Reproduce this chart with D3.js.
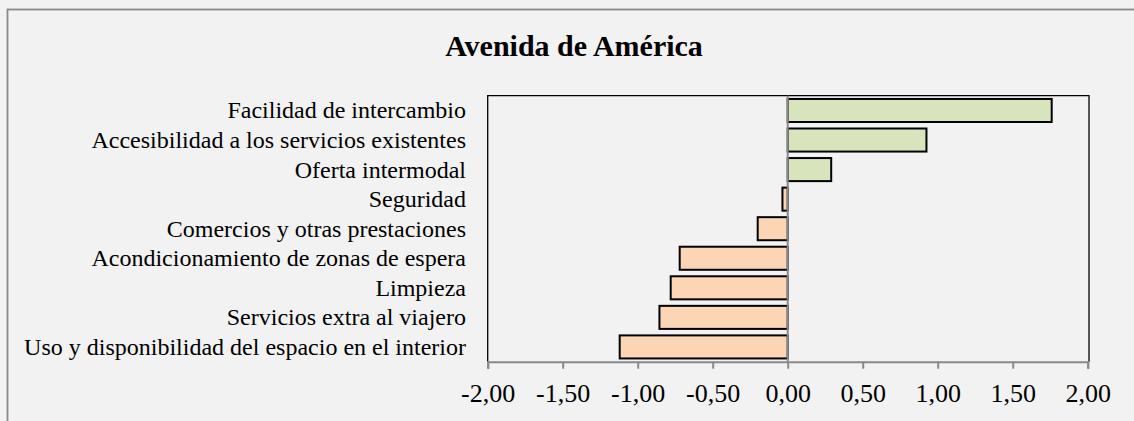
<!DOCTYPE html>
<html>
<head>
<meta charset="utf-8">
<script src="https://cdn.jsdelivr.net/npm/d3@7"></script>
<style>
  html, body { margin: 0; padding: 0; background: #f2f2f2; }
  svg { display: block; }
  text { font-family: "Liberation Serif", "Times New Roman", serif; fill: #000; }
</style>
</head>
<body>
<svg id="chart" width="1134" height="421"></svg>
<script>
const title = "Avenida de América";
const categories = [
  "Facilidad de intercambio",
  "Accesibilidad a los servicios existentes",
  "Oferta intermodal",
  "Seguridad",
  "Comercios y otras prestaciones",
  "Acondicionamiento de zonas de espera",
  "Limpieza",
  "Servicios extra al viajero",
  "Uso y disponibilidad del espacio en el interior"
];
const values = [1.76, 0.925, 0.29, -0.035, -0.20, -0.72, -0.78, -0.855, -1.12];
const tickValues = [-2, -1.5, -1, -0.5, 0, 0.5, 1, 1.5, 2];

const svg = d3.select("#chart");
const W = 1134, H = 421;
const plot = { left: 487.7, right: 1087.7, top: 95.7, bottom: 361.7 };

// outer frame
svg.append("rect")
  .attr("x", 7.5).attr("y", 9.5)
  .attr("width", W + 20).attr("height", H + 20)
  .attr("fill", "#f2f2f2")
  .attr("stroke", "#898989").attr("stroke-width", 1.8);

svg.append("text")
  .attr("x", 574).attr("y", 56)
  .attr("text-anchor", "middle")
  .attr("font-size", 30).attr("font-weight", "bold")
  .text(title);

const x = d3.scaleLinear().domain([-2, 2]).range([plot.left, plot.right]);
const y = d3.scaleBand().domain(categories).range([plot.top, plot.bottom])
  .paddingInner(0.22).paddingOuter(0.11);

// plot box
svg.append("path")
  .attr("d", `M${plot.left},${plot.bottom}V${plot.top}H${plot.right + 1.3}V${plot.bottom}`)
  .attr("fill", "none").attr("stroke", "#000").attr("stroke-width", 1.3);

// bars
svg.append("g").selectAll("rect")
  .data(categories)
  .join("rect")
  .attr("x", (d, i) => x(Math.min(0, values[i])))
  .attr("y", d => y(d))
  .attr("width", (d, i) => Math.abs(x(values[i]) - x(0)))
  .attr("height", y.bandwidth())
  .attr("fill", (d, i) => values[i] >= 0 ? "#d8e4bc" : "#fcd5b4")
  .attr("stroke", "#000").attr("stroke-width", 2);

// category labels
svg.append("g").selectAll("text")
  .data(categories)
  .join("text")
  .attr("x", 466)
  .attr("y", d => y(d) + y.bandwidth() / 2)
  .attr("dy", "0.33em")
  .attr("text-anchor", "end")
  .attr("font-size", 24)
  .text(d => d);

// zero line
svg.append("line")
  .attr("x1", x(0)).attr("x2", x(0))
  .attr("y1", plot.top).attr("y2", plot.bottom)
  .attr("stroke", "#898989").attr("stroke-width", 2);

// x axis
const fmt = v => d3.format(".2f")(v).replace(".", ",").replace("−", "-");
const axis = d3.axisBottom(x).tickValues(tickValues).tickSize(7).tickPadding(15).tickFormat(fmt);
const gx = svg.append("g").attr("transform", `translate(0,${plot.bottom})`).call(axis);
gx.select(".domain").attr("stroke", "#898989").attr("stroke-width", 2);
gx.selectAll(".tick line").attr("stroke", "#898989").attr("stroke-width", 2);
gx.selectAll(".tick text")
  .attr("font-family", "Liberation Serif, Times New Roman, serif")
  .attr("font-size", 26).attr("fill", "#000");
</script>
</body>
</html>
